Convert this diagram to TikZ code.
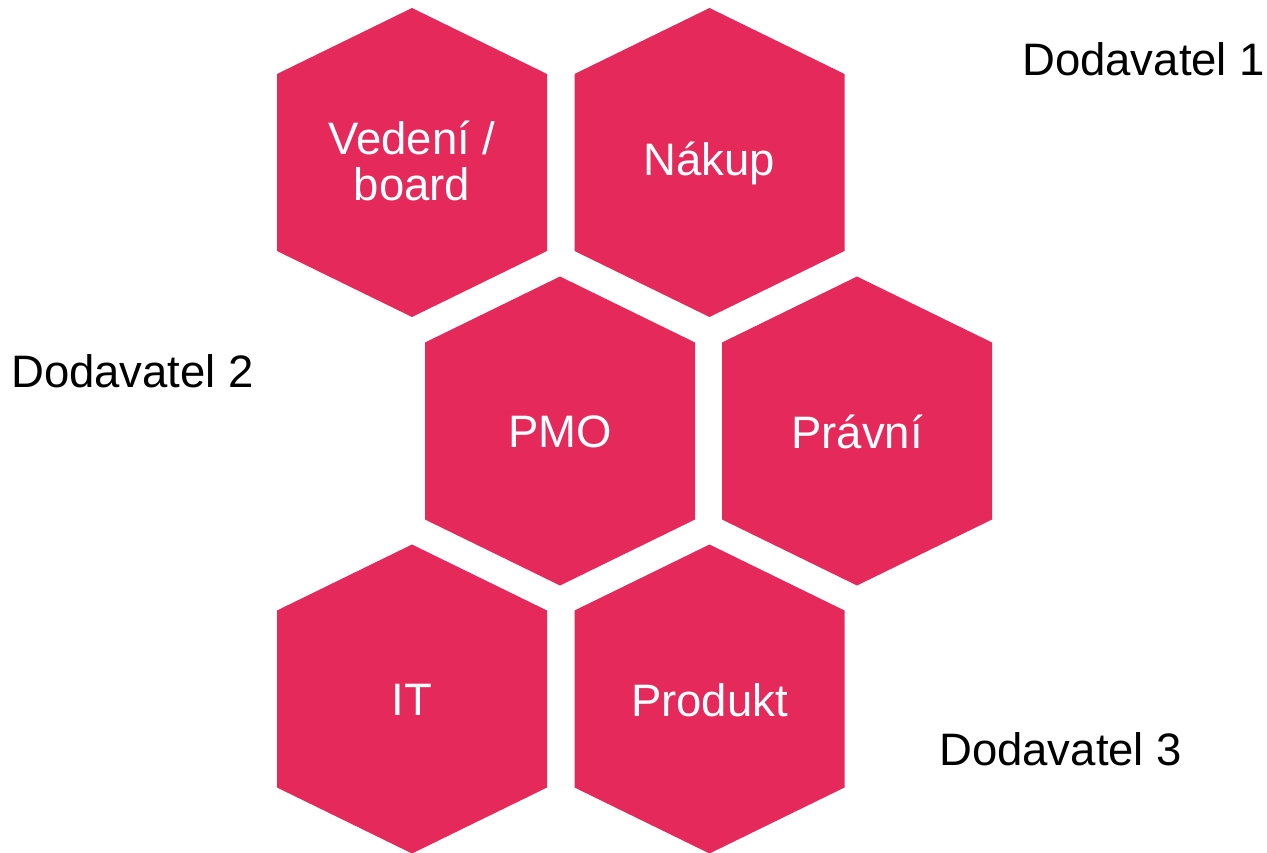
\documentclass[tikz,border=0pt]{standalone}
\usepackage{fontspec}
\setmainfont{Liberation Sans}
\definecolor{hexred}{RGB}{229,41,90}
\tikzset{
  hexlabel/.style={text=white, font=\fontsize{45.5}{46}\selectfont, align=center, inner sep=0pt},
  sidelabel/.style={text=black, font=\fontsize{45.5}{46}\selectfont, inner sep=0pt, anchor=base west}
}
\newcommand\hexcell[5]{%
  \fill[hexred] (#1,#2) +(0,-154.5) -- +(135,-88.5) -- +(135,88.5) -- +(0,154.5) -- +(-135,88.5) -- +(-135,-88.5) -- cycle;
  \node[hexlabel] (#3) at (#1,#2+#5) {#4};
}
\begin{document}
\begin{tikzpicture}[x=1pt,y=-1pt]
\useasboundingbox (0,0) rectangle (1267,853);
\hexcell{412}{162.5}{vedeni}{Vedení /\\board}{-2}
\hexcell{709.5}{162.5}{nakup}{Nákup}{1}
\hexcell{560}{431}{pmo}{PMO}{1}
\hexcell{857}{431}{pravni}{Právní}{1}
\hexcell{412}{699}{it}{IT}{1}
\hexcell{709.5}{699}{produkt}{Produkt}{1}
\node[sidelabel] (d1) at (1022,76) {Dodavatel 1};
\node[sidelabel] (d2) at (11,387) {Dodavatel 2};
\node[sidelabel] (d3) at (939,765) {Dodavatel 3};
\end{tikzpicture}
\end{document}
